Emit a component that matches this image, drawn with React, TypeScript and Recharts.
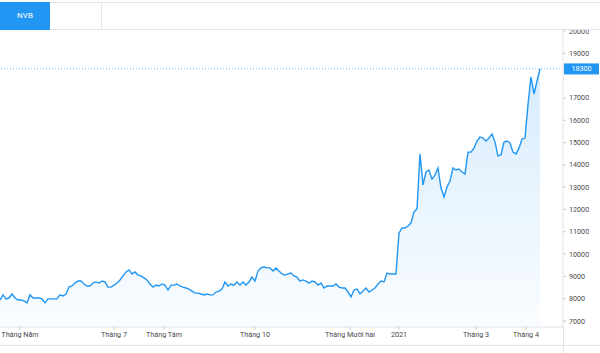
import React from 'react';
import { AreaChart, Area, XAxis, YAxis, ReferenceLine } from 'recharts';

const symbol = 'NVB';
const lastPrice = 18300;

const prices = [
  7940, 8170, 7990, 8030, 8210, 8030, 7940, 7940, 7900, 7810,
  8170, 8030, 8030, 8030, 7990, 7810, 7990, 7990, 7990, 7990,
  8170, 8120, 8210, 8520, 8570, 8700, 8790, 8790, 8660, 8570,
  8570, 8700, 8750, 8700, 8790, 8750, 8520, 8520, 8610, 8700,
  8840, 9020, 9200, 9290, 9110, 9200, 9060, 9020, 8930, 8840,
  8660, 8520, 8610, 8570, 8660, 8610, 8390, 8610, 8610, 8660,
  8570, 8520, 8480, 8430, 8340, 8250, 8250, 8210, 8170, 8210,
  8170, 8170, 8300, 8340, 8430, 8750, 8570, 8660, 8610, 8750,
  8610, 8750, 8610, 8750, 8970, 8790, 9240, 9380, 9420, 9380,
  9380, 9240, 9380, 9240, 9110, 9060, 9110, 9150, 9020, 8970,
  8790, 8840, 8790, 8700, 8790, 8750, 8610, 8700, 8480, 8570,
  8570, 8570, 8660, 8520, 8480, 8480, 8300, 8080, 8390, 8430,
  8210, 8340, 8480, 8300, 8390, 8480, 8660, 8790, 8750, 9150,
  9110, 9110, 9110, 10940, 11170, 11170, 11260, 11390, 11890, 12020,
  14490, 13100, 13680, 13770, 13360, 13540, 13860, 12960, 12560, 13010,
  13270, 13860, 13770, 13810, 13680, 13590, 14570, 14570, 14750, 15070,
  15250, 15200, 15070, 15200, 15380, 15020, 14400, 14440, 15020, 15070,
  14980, 14570, 14490, 14750, 15160, 15200, 16700, 17940, 17170, 17760,
  18300,
];

const xTickIndex = [6.67, 38, 54.67, 85, 116.67, 133, 158.67, 175.33];
const xTickLabels = ['Tháng Năm', 'Tháng 7', 'Tháng Tám', 'Tháng 10', 'Tháng Mười hai', '2021', 'Tháng 3', 'Tháng 4'];
const yTicks = [7000, 8000, 9000, 10000, 11000, 12000, 13000, 14000, 15000, 16000, 17000, 19000, 20000];

const data = prices.map((p, i) => ({ i, p }));

const BLUE = '#2196f3';
const BORDER = '#e0e3eb';
const FONT = 'Roboto, "Noto Sans", sans-serif';

const PriceLabel = (props: any) => {
  const vb = props.viewBox || {};
  const x = (vb.x || 0) + (vb.width || 0);
  const y = vb.y || 0;
  return (
    <g>
      <rect x={x + 1} y={y - 5.5} width={35} height={11} fill={BLUE} />
      <text x={x + 18.5} y={y + 2.5} textAnchor="middle" fill="#ffffff" fontSize={7.2} fontFamily={FONT}>
        {lastPrice}
      </text>
    </g>
  );
};

export default function App() {
  return (
    <div style={{ position: 'absolute', left: 0, top: 0, width: 600, height: 353, background: '#fff', overflow: 'hidden', fontFamily: FONT }}>
      <AreaChart width={600} height={353} data={data} margin={{ top: 30, right: 0, bottom: 8, left: 0 }}>
        <defs>
          <linearGradient id="fillGrad" x1="0" y1="0" x2="0" y2="1">
            <stop offset="0%" stopColor={BLUE} stopOpacity={0.3} />
            <stop offset="100%" stopColor={BLUE} stopOpacity={0.04} />
          </linearGradient>
        </defs>
        <XAxis
          dataKey="i"
          type="number"
          domain={[0, 187.67]}
          allowDataOverflow
          ticks={xTickIndex}
          interval={0}
          tickFormatter={(_v: any, idx: number) => xTickLabels[idx]}
          height={18}
          tickSize={3}
          tickMargin={2}
          axisLine={{ stroke: BORDER }}
          tickLine={{ stroke: '#c8cbd3' }}
          tick={{ fontSize: 7.2, fill: '#4a4a4a', fontFamily: FONT }}
        />
        <YAxis
          orientation="right"
          width={37}
          type="number"
          domain={[6731, 20045]}
          allowDataOverflow
          ticks={yTicks}
          interval={0}
          tickSize={3}
          tickMargin={3}
          axisLine={{ stroke: BORDER }}
          tickLine={{ stroke: '#c8cbd3' }}
          tick={{ fontSize: 7.2, fill: '#4a4a4a', fontFamily: FONT, textAnchor: 'start' }}
        />
        <Area
          type="linear"
          dataKey="p"
          stroke={BLUE}
          strokeWidth={1.4}
          fill="url(#fillGrad)"
          isAnimationActive={false}
          dot={false}
          activeDot={false}
        />
        <ReferenceLine y={lastPrice} stroke="#64b5f6" strokeDasharray="1 2" strokeWidth={1} label={PriceLabel} />
      </AreaChart>
      <div style={{ position: 'absolute', left: 0, top: 345, width: 600, height: 1, background: BORDER }} />
      <div style={{ position: 'absolute', left: 563, top: 327, width: 1, height: 26, background: BORDER }} />
      <div style={{ position: 'absolute', left: 0, top: 0, width: 600, height: 30, background: '#fff' }}>
        <div style={{ position: 'absolute', left: 0, top: 2, width: 600, height: 1, background: BORDER }} />
        <div style={{ position: 'absolute', left: 0, top: 29, width: 600, height: 1, background: BORDER }} />
        <div style={{ position: 'absolute', left: 101, top: 2, width: 1, height: 28, background: BORDER }} />
        <div style={{ position: 'absolute', left: 0, top: 2, width: 50, height: 28, background: BLUE, color: '#fff', fontSize: 8, lineHeight: '28px', textAlign: 'center' }}>
          {symbol}
        </div>
      </div>
    </div>
  );
}
